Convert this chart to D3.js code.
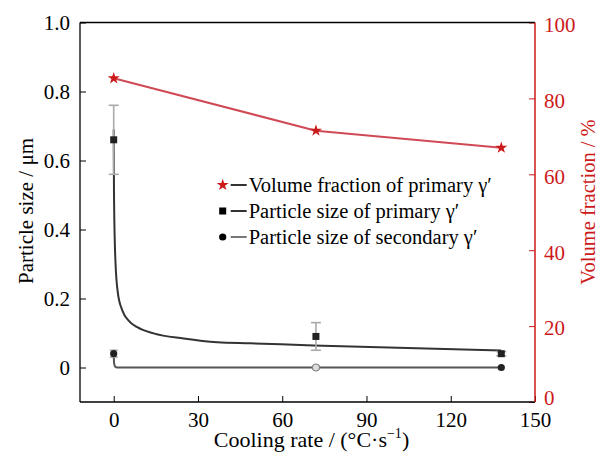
<!DOCTYPE html>
<html><head><meta charset="utf-8">
<script src="https://cdn.jsdelivr.net/npm/d3@7"></script>
<style>body{margin:0;background:#fff}svg{display:block}</style>
</head><body><svg id="c" width="602" height="452"></svg>
<script>
// ---- data ----
const coolingRates = [0, 72, 138];
const volumeFraction = [85.3, 71.5, 67.0];
const primarySize = [0.66, 0.09, 0.04];
const primaryErr = [0.10, 0.04, 0.006];
const secondarySize = [0.04, 0.0, 0.0];
const secondaryErr = [0.01, 0.004, 0.0];
// fitted curves
const primaryFitX = [0, 0.1, 0.6, 1.5, 3.1, 5.3, 8.4, 14.2, 24.9, 36.9, 48.7, 71.1, 138];
const primaryFitY = [0.69, 0.505, 0.311, 0.215, 0.165, 0.136, 0.117, 0.099, 0.084, 0.073, 0.070, 0.064, 0.049];
const secondaryFitX = [0, 0.15, 0.5, 1.2, 3, 138];
const secondaryFitY = [0.04, 0.012, 0.003, 0.0, 0.0, 0.0];
const xTicks = [0, 30, 60, 90, 120, 150];
const leftTicks = [0, 0.2, 0.4, 0.6, 0.8, 1.0];
const rightTicks = [0, 20, 40, 60, 80, 100];
const legendLabels = ["Volume fraction of primary γ′", "Particle size of primary γ′", "Particle size of secondary γ′"];

const FONT = "'Liberation Serif'";
const RED = "#cc1a1a";
const svg = d3.select("#c");
const L = 80, R = 535, T = 22.5, B = 402;
const x = d3.scaleLinear().domain([-12, 150]).range([L, R]);
const yL = d3.scaleLinear().domain([-0.1, 1.0]).range([B, T]);
const yR = d3.scaleLinear().domain([0, 100]).range([B, T]);

// axes
const gx = svg.append("g").attr("transform", `translate(0,${B})`)
  .call(d3.axisBottom(x).tickValues(xTicks).tickSizeInner(-6).tickSizeOuter(0).tickPadding(10).tickFormat(d3.format("d")));
const gl = svg.append("g").attr("transform", `translate(${L},0)`)
  .call(d3.axisLeft(yL).tickValues(leftTicks).tickSizeInner(-6).tickSizeOuter(0).tickPadding(10)
    .tickFormat(d => d === 0 ? "0" : d3.format(".1f")(d)));
const gr = svg.append("g").attr("transform", `translate(${R},0)`)
  .call(d3.axisRight(yR).tickValues(rightTicks).tickSizeInner(-6).tickSizeOuter(0).tickPadding(9).tickFormat(d3.format("d")));
[gx, gl, gr].forEach(g => {
  g.attr("font-family", "Liberation Serif").attr("font-size", 21).style("font-family", FONT);
  g.selectAll("text").attr("font-family", "Liberation Serif").style("font-family", FONT).attr("font-size", 21);
  g.select(".domain").remove();
});
gx.selectAll("line").attr("stroke", "#000");
gl.selectAll("line").attr("stroke", "#000");
gl.selectAll("text").attr("fill", "#000");
gx.selectAll("text").attr("fill", "#000");
gr.selectAll("line").attr("stroke", RED);
gr.selectAll("text").attr("fill", RED).attr("dy", "0.42em");
gr.selectAll(".tick").filter(d => d === 0).select("text").attr("dy", "0.1em");

// frame
svg.append("line").attr("x1", L).attr("x2", R).attr("y1", T).attr("y2", T).attr("stroke", "#000").attr("stroke-width", 1.3);
svg.append("line").attr("x1", L).attr("x2", R).attr("y1", B).attr("y2", B).attr("stroke", "#000").attr("stroke-width", 1.3);
svg.append("line").attr("x1", L).attr("x2", L).attr("y1", T).attr("y2", B).attr("stroke", "#000").attr("stroke-width", 1.3);
svg.append("line").attr("x1", R).attr("x2", R).attr("y1", T).attr("y2", B).attr("stroke", RED).attr("stroke-width", 1.5);

// titles
svg.append("text").attr("transform", "translate(33,211) rotate(-90)").attr("text-anchor", "middle")
  .attr("font-size", 21).style("font-family", FONT).text("Particle size / μm");
svg.append("text").attr("transform", "translate(595,202) rotate(-90)").attr("text-anchor", "middle")
  .attr("font-size", 20.5).style("font-family", FONT).attr("fill", RED).text("Volume fraction / %");
const xt = svg.append("text").attr("x", 311.5).attr("y", 447).attr("text-anchor", "middle").attr("font-size", 22).style("font-family", FONT);
xt.append("tspan").text("Cooling rate / (°C·s");
xt.append("tspan").attr("font-size", 14).attr("dy", -9).text("−1");
xt.append("tspan").attr("dy", 9).text(")");

// fitted curves
const lineL = d3.line().x(d => x(d[0])).y(d => yL(d[1])).curve(d3.curveMonotoneX);
svg.append("path").attr("d", lineL(primaryFitX.map((v, i) => [v, primaryFitY[i]])))
  .attr("fill", "none").attr("stroke", "#333").attr("stroke-width", 2);
svg.append("path").attr("d", lineL(secondaryFitX.map((v, i) => [v, secondaryFitY[i]])))
  .attr("fill", "none").attr("stroke", "#555").attr("stroke-width", 2);

// volume fraction line
const lineR = d3.line().x((d, i) => x(coolingRates[i])).y(d => yR(d));
svg.append("path").attr("d", lineR(volumeFraction)).attr("fill", "none").attr("stroke", "#d04a55").attr("stroke-width", 2);

// error bars
function errBars(vals, errs, cap) {
  vals.forEach((v, i) => {
    if (!errs[i]) return;
    const cx = x(coolingRates[i]);
    const g = svg.append("g").attr("stroke", "#aaa").attr("stroke-width", 1.6);
    g.append("line").attr("x1", cx).attr("x2", cx).attr("y1", yL(v - errs[i])).attr("y2", yL(v + errs[i]));
    [v - errs[i], v + errs[i]].forEach(e => g.append("line").attr("x1", cx - cap).attr("x2", cx + cap).attr("y1", yL(e)).attr("y2", yL(e)));
  });
}
errBars(primarySize, primaryErr, 5);
errBars(secondarySize, secondaryErr, 4);

// markers
const star = d3.symbol().type(d3.symbolStar);
svg.selectAll(".star").data(volumeFraction).join("path")
  .attr("transform", (d, i) => `translate(${x(coolingRates[i])},${yR(d)})`)
  .attr("d", star.size(45)).attr("fill", RED);
svg.selectAll(".sq").data(primarySize).join("rect")
  .attr("x", (d, i) => x(coolingRates[i]) - 3.5).attr("y", d => yL(d) - 3.5)
  .attr("width", 7).attr("height", 7).attr("fill", "#222");
svg.selectAll(".ci").data(secondarySize).join("circle")
  .attr("cx", (d, i) => x(coolingRates[i])).attr("cy", d => yL(d)).attr("r", 3.6)
  .attr("fill", (d, i) => i === 1 ? "#ddd" : "#222").attr("stroke", (d, i) => i === 1 ? "#777" : "none");

// legend
const lx = 222.7, ly = [185, 211, 237];
const lg = svg.append("g");
lg.append("path").attr("transform", `translate(${lx},${ly[0]})`).attr("d", star.size(45)).attr("fill", RED);
lg.append("rect").attr("x", lx - 3.5).attr("y", ly[1] - 3.5).attr("width", 7).attr("height", 7).attr("fill", "#000");
lg.append("circle").attr("cx", lx).attr("cy", ly[2]).attr("r", 3.6).attr("fill", "#000");
legendLabels.forEach((t, i) => {
  lg.append("line").attr("x1", lx + 8).attr("x2", lx + 24).attr("y1", ly[i]).attr("y2", ly[i])
    .attr("stroke", i === 2 ? "#555" : "#000").attr("stroke-width", 1.6);
  lg.append("text").attr("x", lx + 26).attr("y", ly[i] + 6.5).attr("font-size", 20.5).style("font-family", FONT).text(t);
});
</script></body></html>
